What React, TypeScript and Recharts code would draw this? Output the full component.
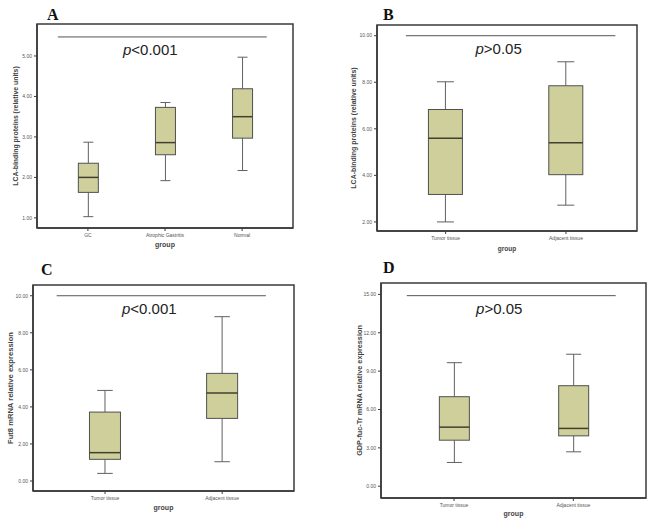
import React from 'react';
import { ComposedChart, Bar, XAxis, YAxis, ReferenceLine, ReferenceArea } from 'recharts';

// panel A
const groupsA = ['GC', 'Atrophic Gastritis', 'Normal'];
const minA = [1.03, 1.92, 2.17];
const q1A = [1.63, 2.56, 2.97];
const medA = [2.0, 2.86, 3.5];
const q3A = [2.35, 3.73, 4.19];
const maxA = [2.87, 3.85, 4.97];
const ticksA = [1, 2, 3, 4, 5];

// panel B
const groupsB = ['Tumor tissue', 'Adjacent tissue'];
const minB = [2.0, 2.72];
const q1B = [3.18, 4.03];
const medB = [5.6, 5.4];
const q3B = [6.83, 7.85];
const maxB = [8.02, 8.88];
const ticksB = [2, 4, 6, 8, 10];

// panel C
const groupsC = ['Tumor tissue', 'Adjacent tissue'];
const minC = [0.41, 1.04];
const q1C = [1.17, 3.38];
const medC = [1.53, 4.75];
const q3C = [3.72, 5.81];
const maxC = [4.89, 8.87];
const ticksC = [0, 2, 4, 6, 8, 10];

// panel D
const groupsD = ['Tumor tissue', 'Adjacent tissue'];
const minD = [1.86, 2.69];
const q1D = [3.6, 3.94];
const medD = [4.62, 4.52];
const q3D = [7.0, 7.86];
const maxD = [9.66, 10.32];
const ticksD = [0, 3, 6, 9, 12, 15];

const FILL = '#cfcf9b';
const EDGE = '#505050';
const FRAME = '#3a3a3a';
const FONT = 'Arial, Liberation Sans, sans-serif';

const build = (groups: string[], mn: number[], q1: number[], md: number[], q3: number[], mx: number[]) =>
  groups.map((g, i) => ({
    pos: i + 1,
    name: g,
    range: [mn[i], mx[i]],
    min: mn[i],
    q1: q1[i],
    med: md[i],
    q3: q3[i],
    max: mx[i],
  }));

const BoxShape = (props: any) => {
  const { x, y, width, height, payload } = props;
  const top = Math.min(y, y + height);
  const bot = Math.max(y, y + height);
  const span = payload.max - payload.min;
  const py = (v: number) => bot - ((v - payload.min) / span) * (bot - top);
  const cx = x + width / 2;
  const cap = width / 4;
  return (
    <g>
      <line x1={cx} x2={cx} y1={py(payload.max)} y2={py(payload.q3)} stroke="#606060" strokeWidth={1} />
      <line x1={cx} x2={cx} y1={py(payload.q1)} y2={py(payload.min)} stroke="#606060" strokeWidth={1} />
      <line x1={cx - cap} x2={cx + cap} y1={py(payload.max)} y2={py(payload.max)} stroke="#606060" strokeWidth={1} />
      <line x1={cx - cap} x2={cx + cap} y1={py(payload.min)} y2={py(payload.min)} stroke="#606060" strokeWidth={1} />
      <rect x={x} y={py(payload.q3)} width={width} height={py(payload.q1) - py(payload.q3)} fill={FILL} stroke={EDGE} strokeWidth={1} />
      <line x1={x} x2={x + width} y1={py(payload.med)} y2={py(payload.med)} stroke="#404030" strokeWidth={1.5} />
    </g>
  );
};

interface PanelProps {
  data: any[];
  groups: string[];
  ticks: number[];
  yDomain: [number, number];
  xDomain: [number, number];
  sig: [number, number, number];
  pText: string;
  yTitle: string;
  yTitleSize: number;
  yTitleX: number;
  groupSize: number;
  groupDy: number;
  barSize: number;
  width: number;
  height: number;
  margin: { top: number; right: number; bottom: number; left: number };
  yWidth: number;
  xHeight: number;
}

function Panel(p: PanelProps) {
  return (
    <ComposedChart width={p.width} height={p.height} data={p.data} margin={p.margin}>
      <XAxis
        type="number"
        dataKey="pos"
        domain={p.xDomain}
        ticks={p.data.map(d => d.pos)}
        interval={0}
        allowDataOverflow
        tickFormatter={(v: number) => p.groups[v - 1]}
        tick={{ fontSize: 5, fill: '#555', fontFamily: FONT }}
        tickSize={3}
        tickLine={{ stroke: FRAME }}
        axisLine={{ stroke: FRAME, strokeWidth: 1.5 }}
        height={p.xHeight}
        label={{
          content: (lp: any) => {
            const vb = lp.viewBox;
            return (
              <text x={vb.x + vb.width / 2} y={vb.y + p.groupDy} textAnchor="middle" fontSize={p.groupSize} fontWeight="bold" fill="#444" fontFamily={FONT}>
                group
              </text>
            );
          },
        }}
      />
      <YAxis
        type="number"
        domain={p.yDomain}
        ticks={p.ticks}
        interval={0}
        allowDataOverflow
        tickFormatter={(v: number) => v.toFixed(2)}
        tick={{ fontSize: 5, fill: '#555', fontFamily: FONT }}
        tickSize={3}
        tickLine={{ stroke: FRAME }}
        axisLine={{ stroke: FRAME, strokeWidth: 1.5 }}
        width={p.yWidth}
        label={{
          content: (lp: any) => {
            const vb = lp.viewBox;
            const cx = vb.x + p.yTitleX;
            const cy = vb.y + vb.height / 2;
            return (
              <text x={cx} y={cy} transform={`rotate(-90 ${cx} ${cy})`} textAnchor="middle" dominantBaseline="central" fontSize={p.yTitleSize} fontWeight="bold" fill="#444" fontFamily={FONT}>
                {p.yTitle}
              </text>
            );
          },
        }}
      />
      <ReferenceArea x1={p.xDomain[0]} x2={p.xDomain[1]} y1={p.yDomain[0]} y2={p.yDomain[1]} fill="none" fillOpacity={0} stroke={FRAME} strokeWidth={1.5} ifOverflow="visible" />
      <ReferenceLine
        segment={[{ x: p.sig[0], y: p.sig[2] }, { x: p.sig[1], y: p.sig[2] }]}
        stroke="#555"
        strokeWidth={1}
        label={{
          content: (lp: any) => {
            const vb = lp.viewBox;
            const cx = vb.x + vb.width / 2 - 12;
            return (
              <text x={cx} y={vb.y + 18} textAnchor="middle" fontSize={15} fill="#222" fontFamily={FONT}>
                <tspan fontStyle="italic">p</tspan>
                {p.pText}
              </text>
            );
          },
        }}
      />
      <Bar dataKey="range" barSize={p.barSize} shape={<BoxShape />} isAnimationActive={false} />
    </ComposedChart>
  );
}

const letters = [
  { t: 'A', x: 47, y: 20 },
  { t: 'B', x: 383, y: 20 },
  { t: 'C', x: 41, y: 275 },
  { t: 'D', x: 383, y: 273 },
];

export default function App() {
  return (
    <div style={{ position: 'absolute', left: 0, top: 0, width: 653, height: 526, background: '#fff' }}>
      <div style={{ position: 'absolute', left: 0, top: 0 }}>
        <Panel
          data={build(groupsA, minA, q1A, medA, q3A, maxA)}
          groups={groupsA}
          ticks={ticksA}
          yDomain={[0.75, 5.79]}
          xDomain={[0.34, 3.66]}
          sig={[0.61, 3.32, 5.47]}
          pText="<0.001"
          yTitle="LCA-binding proteins (relative units)"
          yTitleSize={6.9}
          yTitleX={15}
          groupSize={7}
          groupDy={19}
          barSize={20}
          width={326}
          height={255}
          margin={{ top: 24, right: 33, bottom: 0, left: 0 }}
          yWidth={37}
          xHeight={27}
        />
      </div>
      <div style={{ position: 'absolute', left: 326, top: 0 }}>
        <Panel
          data={build(groupsB, minB, q1B, medB, q3B, maxB)}
          groups={groupsB}
          ticks={ticksB}
          yDomain={[1.61, 10.46]}
          xDomain={[0.43, 2.59]}
          sig={[0.67, 2.41, 10.0]}
          pText=">0.05"
          yTitle="LCA-binding proteins (relative units)"
          yTitleSize={7}
          yTitleX={27}
          groupSize={6.5}
          groupDy={20}
          barSize={34}
          width={327}
          height={255}
          margin={{ top: 25, right: 16, bottom: 0, left: 0 }}
          yWidth={51}
          xHeight={24}
        />
      </div>
      <div style={{ position: 'absolute', left: 0, top: 255 }}>
        <Panel
          data={build(groupsC, minC, q1C, medC, q3C, maxC)}
          groups={groupsC}
          ticks={ticksC}
          yDomain={[-0.54, 10.58]}
          xDomain={[0.385, 2.613]}
          sig={[0.587, 2.373, 10.0]}
          pText="<0.001"
          yTitle="Fut8 mRNA relative expression"
          yTitleSize={7.6}
          yTitleX={10}
          groupSize={7}
          groupDy={19}
          barSize={31}
          width={326}
          height={271}
          margin={{ top: 30, right: 32, bottom: 0, left: 0 }}
          yWidth={33}
          xHeight={35}
        />
      </div>
      <div style={{ position: 'absolute', left: 326, top: 255 }}>
        <Panel
          data={build(groupsD, minD, q1D, medD, q3D, maxD)}
          groups={groupsD}
          ticks={ticksD}
          yDomain={[-0.92, 15.89]}
          xDomain={[0.388, 2.609]}
          sig={[0.604, 2.355, 14.9]}
          pText=">0.05"
          yTitle="GDP-fuc-Tr mRNA relative expression"
          yTitleSize={7.3}
          yTitleX={33}
          groupSize={7}
          groupDy={18}
          barSize={30}
          width={327}
          height={271}
          margin={{ top: 28, right: 7, bottom: 0, left: 0 }}
          yWidth={55}
          xHeight={28}
        />
      </div>
      <svg width={653} height={526} style={{ position: 'absolute', left: 0, top: 0, pointerEvents: 'none' }}>
        {letters.map(l => (
          <text key={l.t} x={l.x} y={l.y} fontSize={16} fontWeight="bold" fontFamily="Liberation Serif, Times New Roman, serif" fill="#111">
            {l.t}
          </text>
        ))}
      </svg>
    </div>
  );
}
